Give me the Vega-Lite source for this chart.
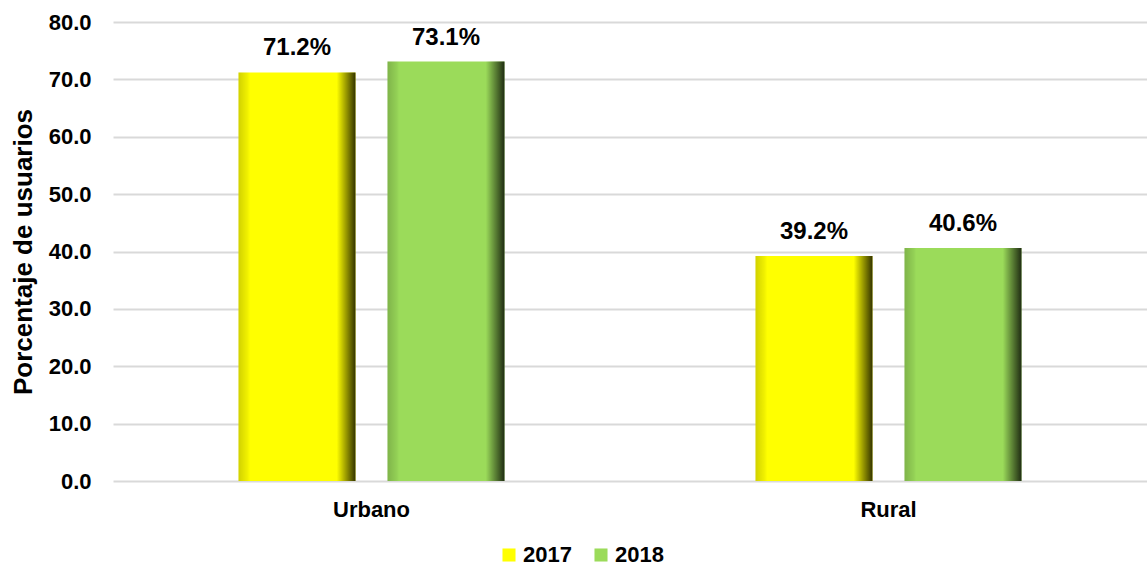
{
  "$schema": "https://vega.github.io/schema/vega-lite/v6.json",
  "width": 1034,
  "height": 459,
  "autosize": {"type": "none"},
  "padding": {"left": 113, "top": 22, "right": 0, "bottom": 89},
  "background": "white",
  "config": {
    "font": "Liberation Sans",
    "view": {"stroke": null}
  },
  "data": {
    "values": [
      {"zona": "Urbano", "anio": "2017", "valor": 71.2, "etiqueta": "71.2%"},
      {"zona": "Urbano", "anio": "2018", "valor": 73.1, "etiqueta": "73.1%"},
      {"zona": "Rural", "anio": "2017", "valor": 39.2, "etiqueta": "39.2%"},
      {"zona": "Rural", "anio": "2018", "valor": 40.6, "etiqueta": "40.6%"}
    ]
  },
  "encoding": {
    "x": {
      "field": "zona", "type": "nominal", "sort": ["Urbano", "Rural"],
      "scale": {"paddingInner": 0, "paddingOuter": 0},
      "axis": {
        "title": null, "labelAngle": 0, "labelFont": "Liberation Sans", "labelFontWeight": "bold",
        "labelFontSize": 22, "labelColor": "#000000", "labelPadding": 18,
        "domain": false, "ticks": false
      }
    },
    "xOffset": {
      "field": "anio", "type": "nominal",
      "scale": {"paddingInner": 0.2148, "paddingOuter": 0.8423}
    },
    "y": {
      "field": "valor", "type": "quantitative",
      "scale": {"domain": [0, 80], "nice": false},
      "axis": {
        "title": "Porcentaje de usuarios", "titleFont": "Liberation Sans", "titleFontWeight": "bold",
        "titleFontSize": 26, "titleColor": "#000000", "titleX": -90, "titleY": 229.5,
        "titleAlign": "center", "titleBaseline": "middle", "titleAngle": -90,
        "values": [0, 10, 20, 30, 40, 50, 60, 70, 80], "format": ".1f",
        "labelFont": "Liberation Sans", "labelFontWeight": "bold", "labelFontSize": 22,
        "labelColor": "#000000", "labelPadding": 22,
        "domain": false, "ticks": false,
        "grid": true, "gridColor": "#d9d9d9", "gridWidth": 2
      }
    }
  },
  "layer": [
    {
      "mark": {"type": "bar"},
      "encoding": {
        "color": {
          "field": "anio", "type": "nominal",
          "scale": {"domain": ["2017", "2018"], "range": ["#ffff00", "#9bdb5a"]},
          "legend": {
            "orient": "none", "direction": "horizontal", "legendX": 385, "legendY": 522,
            "title": null, "symbolType": "square", "symbolSize": 170, "symbolStrokeWidth": 0,
            "labelFont": "Liberation Sans", "labelFontWeight": "bold", "labelFontSize": 22,
            "labelColor": "#000000", "columnPadding": 18, "labelOffset": 3
          }
        }
      }
    },
    {
      "mark": {
        "type": "bar",
        "fill": {
          "gradient": "linear", "x1": 0, "x2": 1, "y1": 0, "y2": 0,
          "stops": [
            {"offset": 0, "color": "rgba(0,0,0,0.18)"},
            {"offset": 0.08, "color": "rgba(0,0,0,0.05)"},
            {"offset": 0.1, "color": "rgba(0,0,0,0)"},
            {"offset": 0.84, "color": "rgba(0,0,0,0)"},
            {"offset": 0.88, "color": "rgba(0,0,0,0.2)"},
            {"offset": 1, "color": "rgba(0,0,0,0.8)"}
          ]
        }
      }
    },
    {
      "mark": {
        "type": "text", "baseline": "alphabetic", "dy": -17,
        "font": "Liberation Sans", "fontWeight": "bold", "fontSize": 24, "color": "#000000"
      },
      "encoding": {
        "text": {"field": "etiqueta", "type": "nominal"}
      }
    }
  ]
}
